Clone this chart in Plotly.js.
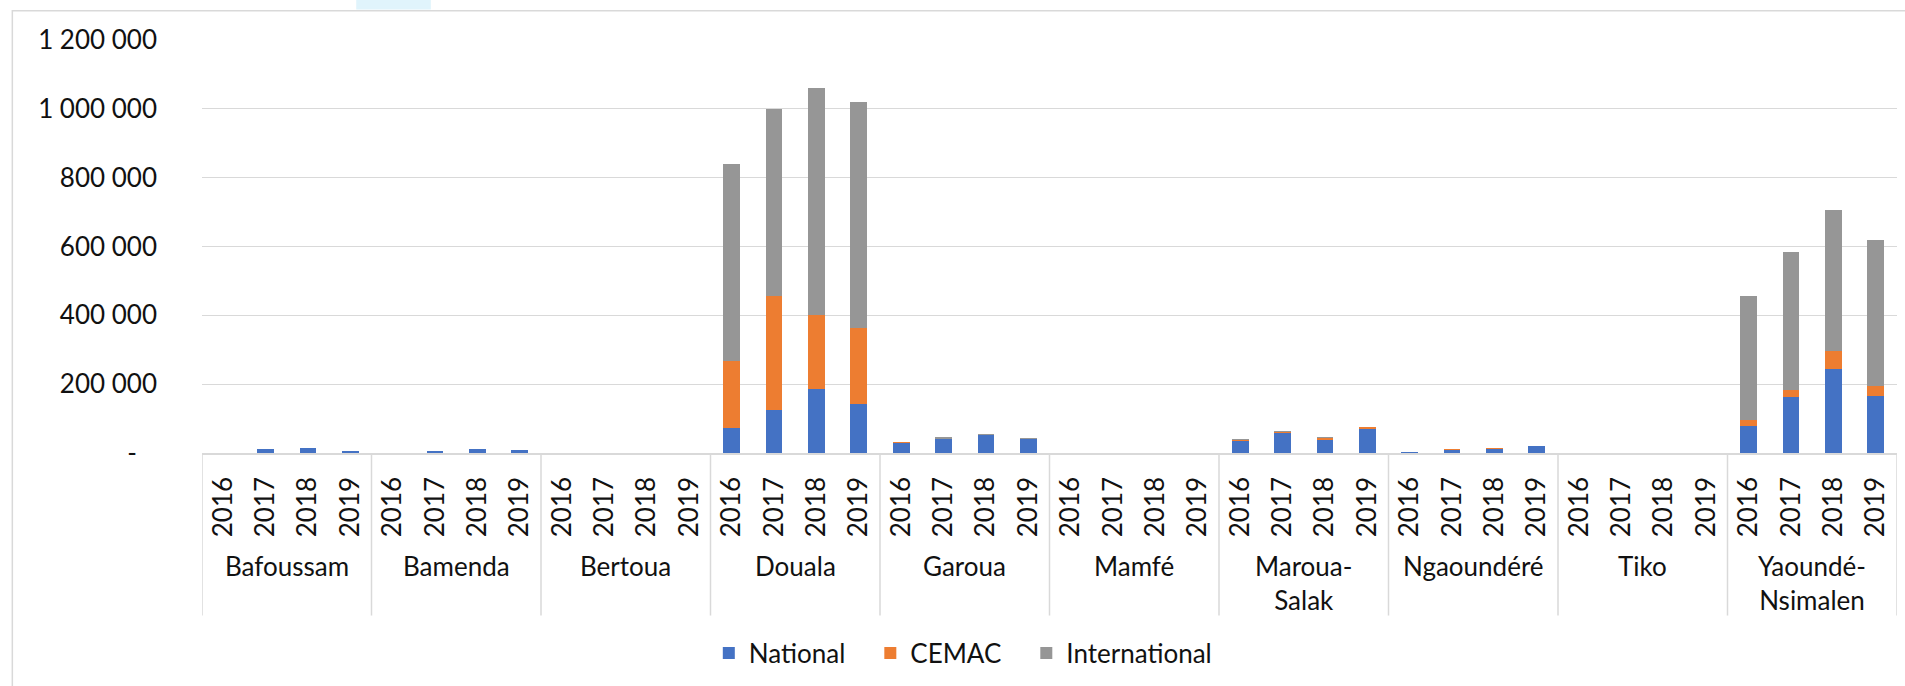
<!DOCTYPE html>
<html>
<head>
<meta charset="utf-8">
<script src="https://cdn.plot.ly/plotly-3.0.1.min.js"></script>
<style>
  html, body { margin: 0; padding: 0; background: #ffffff; }
  #chart { width: 1905px; height: 686px; }
</style>
</head>
<body>
<div id="chart"></div>
<script>
// ---- Data ----
const cities = ["Bafoussam", "Bamenda", "Bertoua", "Douala", "Garoua", "Mamfé", "Maroua-Salak", "Ngaoundéré", "Tiko", "Yaoundé-Nsimalen"];
const cityLabels = ["Bafoussam", "Bamenda", "Bertoua", "Douala", "Garoua", "Mamfé", "Maroua-<br>Salak", "Ngaoundéré", "Tiko", "Yaoundé-<br>Nsimalen"];
const years = ["2016", "2017", "2018", "2019"];

// values in order: city by city, years 2016..2019
const nationalValues = [
  0, 10700, 13600, 4900,        // Bafoussam
  0, 5800, 11600, 7800,         // Bamenda
  0, 0, 0, 0,                   // Bertoua
  73000, 126000, 186000, 142000, // Douala
  29000, 40000, 51000, 40000,   // Garoua
  0, 0, 0, 0,                   // Mamfé
  34000, 57000, 37000, 70000,   // Maroua-Salak
  1500, 10000, 13000, 20000,    // Ngaoundéré
  0, 0, 0, 0,                   // Tiko
  78000, 163000, 244000, 165000 // Yaoundé-Nsimalen
];
const cemacValues = [
  0, 0, 0, 0,
  0, 0, 0, 0,
  0, 0, 0, 0,
  194000, 330000, 215000, 221000,
  2000, 1000, 1000, 1000,
  0, 0, 0, 0,
  5000, 4000, 7000, 5000,
  500, 2000, 2000, 500,
  0, 0, 0, 0,
  18000, 19000, 53000, 31000
];
const internationalValues = [
  0, 0, 0, 0,
  0, 0, 0, 0,
  0, 0, 0, 0,
  572000, 543000, 661000, 658000,
  500, 6000, 4500, 3000,
  0, 0, 0, 0,
  1000, 1500, 1500, 1000,
  1500, 500, 500, 1000,
  0, 0, 0, 0,
  361000, 401000, 409000, 423000
];
const seriesNames = ["National", "CEMAC", "International"];
const yTickValues = [0, 200000, 400000, 600000, 800000, 1000000, 1200000];
const yTickLabels = ["-\u00a0\u00a0\u00a0", "200 000", "400 000", "600 000", "800 000", "1 000 000", "1 200 000"];

// ---- Build ----
const categories = [];
const yearTicks = [];
cities.forEach(c => years.forEach(y => { categories.push(c + " " + y); yearTicks.push(y); }));

const colors = ["#4472C4", "#ED7D31", "#969696"];
const legendPad = ["\u00a0\u00a0\u00a0", "\u00a0\u00a0\u00a0", ""];
const seriesValues = [nationalValues, cemacValues, internationalValues];
const FONT = "Lato, 'Open Sans', sans-serif";

const traces = seriesNames.map((name, i) => ({
  type: "bar",
  name: name + legendPad[i],
  x: categories,
  y: seriesValues[i],
  marker: { color: colors[i], line: { width: 0 } },
  hoverinfo: "x+y+name"
}));

const nY = years.length;
const shapes = [];
// outer chart border
shapes.push({ type: "rect", xref: "paper", yref: "paper", x0: -0.1119, x1: 1.02, y0: -0.7, y1: 1.0711,
  line: { color: "#d9d9d9", width: 1.5 }, fillcolor: "rgba(0,0,0,0)", layer: "below" });
// light blue artefact at the top
shapes.push({ type: "rect", xref: "paper", yref: "paper", x0: 0.091, x1: 0.135, y0: 1.074, y1: 1.1,
  line: { width: 0 }, fillcolor: "#e0f4fc", layer: "below" });
// group dividers
for (let g = 0; g <= cities.length; g++) {
  shapes.push({ type: "line", xref: "x", yref: "paper", x0: g * nY - 0.5, x1: g * nY - 0.5, y0: 0, y1: -0.3935,
    line: { color: "#d9d9d9", width: 1.5 } });
}

const annotations = cities.map((c, g) => ({
  xref: "x", yref: "paper",
  x: g * nY + (nY - 1) / 2,
  y: -0.2299,
  yanchor: "top", xanchor: "center",
  text: cityLabels[g],
  showarrow: false,
  font: { family: FONT, size: 26, color: "#111111" }
}));

const layout = {
  width: 1905, height: 686,
  margin: { l: 201.7, r: 8, t: 40.3, b: 233.3, pad: 0 },
  paper_bgcolor: "#ffffff", plot_bgcolor: "#ffffff",
  barmode: "stack",
  bargap: 0.606,
  font: { family: FONT, size: 26, color: "#111111" },
  xaxis: {
    type: "category",
    range: [-0.5, categories.length - 0.5],
    tickmode: "array", tickvals: categories, ticktext: yearTicks,
    tickangle: -90,
    ticks: "",
    ticklabelstandoff: 12,
    showgrid: false, zeroline: false,
    showline: true, linecolor: "#d9d9d9", linewidth: 1.5,
    tickfont: { family: FONT, size: 26, color: "#111111" }
  },
  yaxis: {
    range: [0, 1200000],
    tickmode: "array", tickvals: yTickValues, ticktext: yTickLabels,
    showgrid: true, gridcolor: "#d9d9d9", gridwidth: 1.3,
    zeroline: false, showline: false,
    ticks: "",
    ticklabelstandoff: 44,
    tickfont: { family: FONT, size: 26, color: "#111111" }
  },
  legend: {
    orientation: "h",
    x: 0.299, xanchor: "left",
    y: -0.4845, yanchor: "middle",
    traceorder: "normal",
    font: { family: FONT, size: 26, color: "#111111" },
    bgcolor: "rgba(0,0,0,0)"
  },
  shapes: shapes,
  annotations: annotations,
  showlegend: true
};

Plotly.newPlot("chart", traces, layout, { displayModeBar: false, staticPlot: true });
</script>
</body>
</html>
